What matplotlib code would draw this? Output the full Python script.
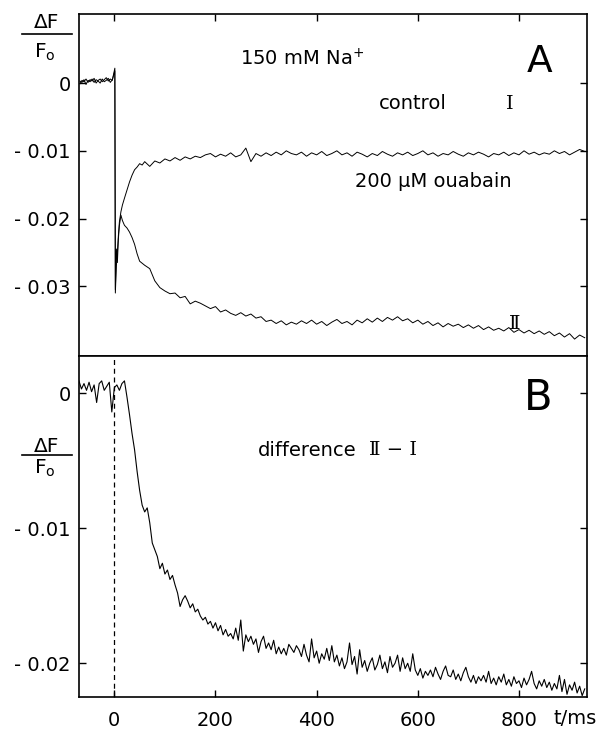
import numpy as np
import matplotlib.pyplot as plt
from matplotlib.lines import Line2D

plt.rcParams['font.family'] = ['DejaVu Sans']

#%% DATA (dF/F0 values in units of 1e-3)
t_A = list(range(-68, 0, 4)) + [1, 2, 4, 6, 8, 10, 13, 16, 20, 25, 30, 35, 40, 45, 50, 55] + list(range(60, 931, 10))

control_I = [-0.1, 0.4, 0.2, 0.6, 0.1, 0.5, 0.3, 0.7, 0.0, 0.4, 0.6, 0.2, 0.5, 0.8, 0.3, 0.6, 0.4,
             2.2, -31.0, -27.0, -25.0, -22.5, -20.5, -19.0, -18.0, -17.0, -15.8, -14.6, -13.6, -12.8, -12.4, -11.9, -12.1,
             -11.6, -12.3, -11.5, -11.8, -11.2, -11.5, -11.0, -11.4, -10.9, -11.2,
             -10.8, -11.0, -10.6, -10.4, -10.9, -10.5, -10.8, -10.3, -10.9, -10.6,
             -9.6, -11.6, -10.4, -10.8, -10.3, -10.7, -10.2, -10.6, -10.0, -10.4,
             -10.6, -10.2, -10.8, -10.3, -10.6, -10.1, -10.7, -10.4, -10.0, -10.6,
             -10.3, -10.8, -10.2, -10.5, -10.9, -10.4, -10.7, -10.1, -10.5, -10.8,
             -10.3, -10.6, -10.2, -10.7, -10.4, -10.0, -10.6, -10.3, -10.8, -10.4,
             -10.6, -10.1, -10.5, -10.8, -10.3, -10.6, -10.2, -10.5, -10.9, -10.4,
             -10.6, -10.2, -10.7, -10.3, -10.6, -10.0, -10.5, -10.2, -10.6, -10.3,
             -10.5, -10.0, -10.4, -10.1, -10.6, -10.2, -9.8, -10.1]

ouabain_II = [0.3, 0.1, 0.5, -0.2, 0.4, 0.2, 0.6, 0.1, 0.5, 0.3, 0.0, 0.6, 0.2, 0.4, 0.7, 0.1, 0.5,
              1.8, -30.5, -24.5, -26.5, -23.0, -21.0, -19.5, -20.3, -21.0, -21.4, -22.0, -22.8, -23.8, -25.2, -26.3, -26.6,
              -26.9, -27.4, -29.2, -30.2, -30.7, -31.1, -31.0, -31.7, -31.5, -32.6,
              -32.2, -32.5, -32.9, -33.3, -33.0, -33.8, -33.5, -34.0, -34.3, -33.9,
              -34.4, -34.1, -34.7, -34.5, -35.2, -35.0, -35.5, -35.1, -35.7, -35.3,
              -35.6, -35.1, -35.5, -35.0, -35.6, -35.2, -35.8, -35.3, -34.9, -35.5,
              -35.2, -35.7, -35.0, -35.4, -34.8, -35.3, -34.7, -35.2, -34.6, -35.0,
              -34.5, -35.1, -34.8, -35.4, -35.0, -35.6, -35.2, -35.8, -35.4, -36.0,
              -35.5, -35.9, -35.6, -36.1, -35.7, -36.2, -35.8, -36.4, -36.0, -36.5,
              -36.2, -36.6, -36.1, -36.8, -36.4, -36.9, -36.5, -37.0, -36.6, -37.1,
              -36.7, -37.3, -36.9, -37.5, -37.0, -37.8, -37.2, -37.6]

t_B = np.arange(-70, 931, 5)
difference = [0.9, 0.3, 0.7, 0.2, 0.8, 0.1, 0.6, -0.7, 0.7, 0.9,
              0.2, 0.5, 0.8, -1.4, 0.4, 0.6, 0.2, 0.7, 0.9, -0.3,
              -1.6, -3.0, -4.2, -5.8, -7.2, -8.3, -8.8, -8.5, -9.6, -11.1,
              -11.6, -12.1, -13.0, -12.6, -13.4, -13.1, -13.8, -13.5, -14.2, -14.8,
              -15.8, -15.3, -15.0, -15.4, -15.9, -15.6, -16.2, -16.0, -16.5, -16.8,
              -16.6, -17.1, -16.9, -17.4, -17.0, -17.6, -17.2, -17.9, -17.5, -18.0,
              -17.8, -18.2, -17.4, -18.3, -16.8, -19.1, -17.9, -18.4, -18.0, -18.6,
              -18.2, -19.2, -18.4, -18.0, -18.9, -18.5, -19.0, -18.3, -19.3, -18.8,
              -19.3, -18.9, -19.4, -18.6, -18.9, -19.2, -18.7, -19.0, -19.5, -18.6,
              -19.4, -19.9, -18.2, -19.6, -19.1, -20.0, -19.3, -19.7, -18.9, -19.8,
              -18.7, -19.9, -19.4, -20.2, -19.6, -20.4, -19.9, -18.5, -20.1, -19.5,
              -20.8, -19.0, -20.3, -19.8, -20.6, -20.0, -19.6, -20.5, -20.1, -19.4,
              -20.4, -19.9, -20.7, -19.5, -20.3, -20.0, -19.4, -20.6, -19.6, -20.4,
              -20.0, -20.6, -19.3, -20.5, -20.9, -20.4, -21.1, -20.6, -20.9, -20.5,
              -21.0, -20.3, -20.8, -21.2, -20.6, -20.2, -20.9, -21.0, -20.5, -21.2,
              -20.8, -21.3, -20.7, -20.3, -21.0, -21.4, -20.9, -21.5, -21.0, -21.3,
              -20.9, -21.4, -20.6, -21.5, -21.1, -21.6, -21.0, -21.4, -20.8, -21.6,
              -21.2, -21.7, -21.0, -21.5, -21.3, -21.8, -21.1, -21.6, -21.2, -20.6,
              -21.5, -21.9, -21.3, -21.7, -21.2, -21.8, -21.4, -22.0, -21.5, -21.9,
              -20.9, -22.1, -21.2, -22.3, -21.6, -22.0, -21.4, -22.2, -21.7, -22.4,
              -21.9]

x_ticks = [0, 200, 400, 600, 800]
yA_ticks = [0, -0.01, -0.02, -0.03]
yA_labels = ['0', '- 0.01', '- 0.02', '- 0.03']
yB_ticks = [0, -0.01, -0.02]
yB_labels = ['0', '- 0.01', '- 0.02']

#%% FIGURE
fig = plt.figure(figsize=(5.98, 7.33), dpi=100)
axA = fig.add_axes([0.132, 0.5143, 0.850, 0.4666])
axB = fig.add_axes([0.132, 0.0491, 0.850, 0.4652])

tA = np.array(t_A)
axA.plot(tA, np.array(control_I) / 1000, color='black', lw=0.7)
axA.plot(tA, np.array(ouabain_II) / 1000, color='black', lw=0.7)
axB.plot(t_B, np.array(difference) / 1000, color='black', lw=0.8)
axB.axvline(0, color='black', lw=0.9, ls=(0, (4, 3)))

for ax in (axA, axB):
    ax.set_xlim(-70, 935)
    for s in ax.spines.values():
        s.set_linewidth(1.2)
    ax.set_xticks(x_ticks)
    ax.tick_params(direction='in', length=5, width=1, labelsize=14, pad=6, right=True)

axA.set_ylim(-0.0403, 0.0102)
axA.set_yticks(yA_ticks)
axA.set_yticklabels(yA_labels)
axA.tick_params(top=True, bottom=False, labelbottom=False)

axB.set_ylim(-0.0225, 0.00274)
axB.set_yticks(yB_ticks)
axB.set_yticklabels(yB_labels)
axB.set_xticklabels([str(v) for v in x_ticks])
axB.tick_params(axis='x', pad=10)

# annotations
serif = ['DejaVu Serif']
fs = 14
axA.text(0.439, 0.868, '150 mM Na$^{+}$', transform=axA.transAxes, fontsize=fs, ha='center', va='center')
axA.text(0.907, 0.860, 'A', transform=axA.transAxes, fontsize=27, ha='center', va='center')
axA.text(0.657, 0.737, 'control', transform=axA.transAxes, fontsize=fs, ha='center', va='center')
axA.text(0.848, 0.737, 'I', transform=axA.transAxes, fontsize=14, ha='center', va='center', family=serif)
axA.text(0.697, 0.509, '200 μM ouabain', transform=axA.transAxes, fontsize=fs, ha='center', va='center')
axA.text(0.858, 0.094, 'Ⅱ', transform=axA.transAxes, fontsize=14, ha='center', va='center', family=serif)

axB.text(0.904, 0.877, 'B', transform=axB.transAxes, fontsize=30, ha='center', va='center')
axB.text(0.449, 0.724, 'difference', transform=axB.transAxes, fontsize=fs, ha='center', va='center')
axB.text(0.617, 0.724, 'Ⅱ − I', transform=axB.transAxes, fontsize=14, ha='center', va='center', family=serif)

# dF/F0 labels
for y_top, y_line, y_bot in ((1 - 23 / 733, 1 - 34 / 733, 1 - 52 / 733),
                             (1 - 446 / 733, 1 - 455 / 733, 1 - 468 / 733)):
    fig.text(47 / 598, y_top, 'ΔF', fontsize=14.5, ha='center', va='center')
    fig.add_artist(Line2D([22 / 598, 72 / 598], [y_line, y_line], color='black', lw=1.2))
    fig.text(45 / 598, y_bot, 'F$_\\mathregular{o}$', fontsize=14.5, ha='center', va='center')

fig.text(575 / 598, 1 - 718 / 733, 't/ms', fontsize=14, ha='center', va='center')

fig.savefig('out.png', dpi=100)
